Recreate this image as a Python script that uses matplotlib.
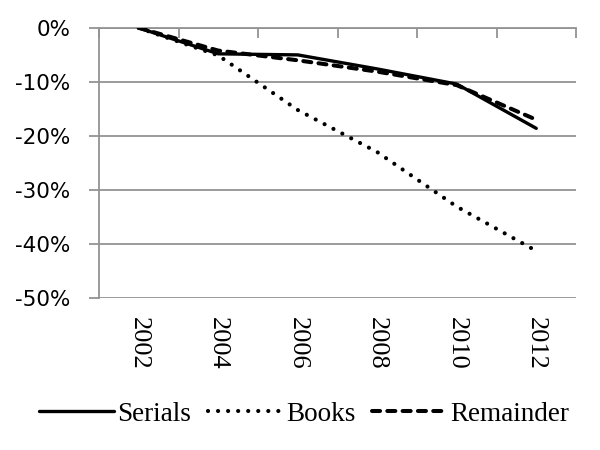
import matplotlib
matplotlib.use("Agg")
import matplotlib.pyplot as plt
import numpy as np

years = ["2002", "2004", "2006", "2008", "2010", "2012"]
serials = [0.0, -4.8, -5.0, -7.6, -10.4, -18.6]
books = [0.0, -5.1, -15.2, -23.0, -33.1, -41.3]
remainder = [0.0, -4.2, -6.0, -8.1, -10.6, -17.0]
y_ticks = [0, -10, -20, -30, -40, -50]
y_labels = ["0%", "-10%", "-20%", "-30%", "-40%", "-50%"]

SERIF = ["Liberation Serif", "DejaVu Serif"]
SANS = ["DejaVu Sans"]
GRID = "#939393"

fig = plt.figure(figsize=(6, 4.5), dpi=100)
ax = fig.add_axes([0.165, 0.338, 0.795, 0.6])

x = np.arange(len(years))
ax.plot(x, serials, color="black", lw=2.4, solid_capstyle="round", label="Serials", zorder=3)
ax.plot(x, books, color="black", lw=3.0, linestyle=(0, (0.01, 2.4)),
        dash_capstyle="round", label="Books", zorder=3)
ax.plot(x, remainder, color="black", lw=2.9, linestyle=(0, (2.0, 1.8)),
        dash_capstyle="round", label="Remainder", zorder=3)

ax.set_xlim(-0.5, len(years) - 0.5)
ax.set_ylim(-50, 0)
ax.set_yticks(y_ticks)
ax.set_yticklabels(y_labels, fontsize=15.5, family=SANS)
ax.yaxis.grid(True, color=GRID, lw=1.3)
ax.set_axisbelow(True)

ax.set_xticks(x)
ax.set_xticklabels(years, rotation=-90, fontsize=19, family=SERIF, va="top")
ax.set_xticks(np.arange(len(years) + 1) - 0.5, minor=True)
ax.tick_params(axis="x", which="major", length=0, pad=14)
ax.tick_params(axis="x", which="minor", top=True, bottom=False, direction="in",
               length=7, color=GRID, width=1.3)
ax.tick_params(axis="y", length=7.5, color=GRID, width=1.3, pad=13)

for side in ["right", "bottom"]:
    ax.spines[side].set_visible(False)
for side in ["left", "top"]:
    ax.spines[side].set_color(GRID)
    ax.spines[side].set_linewidth(1.3)

fig.legend(loc="center", bbox_to_anchor=(0.507, 0.079), ncol=3, frameon=False,
           prop={"family": SERIF, "size": 19.5}, handlelength=2.75,
           handletextpad=0.15, columnspacing=0.6, borderaxespad=0)

fig.savefig("out.png", dpi=100)
